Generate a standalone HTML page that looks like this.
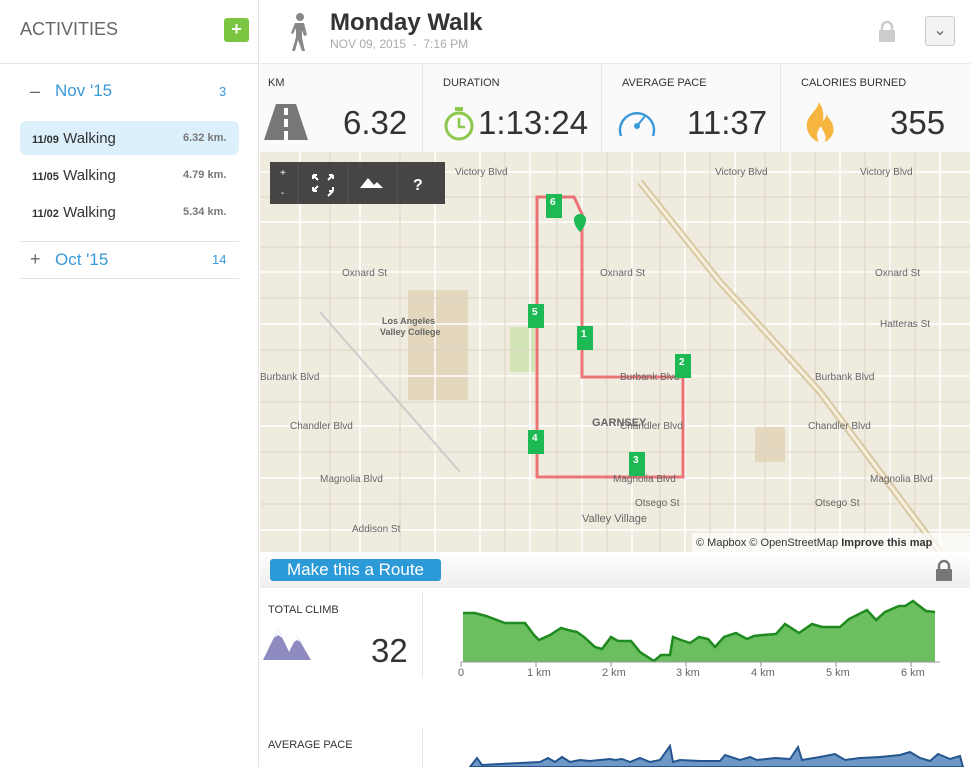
<!DOCTYPE html>
<html><head><meta charset="utf-8"><style>
*{margin:0;padding:0;box-sizing:border-box}
body{width:970px;height:767px;overflow:hidden;background:#fff;font-family:"Liberation Sans",sans-serif;position:relative;color:#333}
.a{position:absolute;white-space:nowrap}
</style></head><body>
<!-- sidebar -->
<div class="a" style="left:0;top:0;width:259px;height:767px;border-right:1px solid #e3e3e3"></div>
<div class="a" style="left:20px;top:19px;font-size:18px;color:#666">ACTIVITIES</div>
<div class="a" style="left:224px;top:18px;width:25px;height:24px;background:#7cc543;border-radius:3px;color:#fff;font-weight:bold;font-size:18px;text-align:center;line-height:23px">+</div>
<div class="a" style="left:0;top:63px;width:259px;border-top:1px solid #e3e3e3"></div>
<div class="a" style="left:30px;top:81px;font-size:18px;color:#666">–</div>
<div class="a" style="left:55px;top:81px;font-size:17px;color:#3a9ad9">Nov '15</div>
<div class="a" style="left:219px;top:84px;font-size:13px;color:#3a9ad9">3</div>
<div class="a" style="left:20px;top:121px;width:219px;height:34px;background:#dbf0fb;border-radius:6px"></div>
<div class="a" style="left:32px;top:130px;font-size:15px;color:#333"><b style="font-size:11px">11/09</b> Walking</div>
<div class="a" style="left:183px;top:132px;font-size:11px;font-weight:bold;color:#777">6.32 km.</div>
<div class="a" style="left:32px;top:167px;font-size:15px;color:#333"><b style="font-size:11px">11/05</b> Walking</div>
<div class="a" style="left:183px;top:169px;font-size:11px;font-weight:bold;color:#777">4.79 km.</div>
<div class="a" style="left:32px;top:204px;font-size:15px;color:#333"><b style="font-size:11px">11/02</b> Walking</div>
<div class="a" style="left:183px;top:206px;font-size:11px;font-weight:bold;color:#777">5.34 km.</div>
<div class="a" style="left:20px;top:241px;width:219px;border-top:1px solid #e3e3e3"></div>
<div class="a" style="left:30px;top:249px;font-size:18px;color:#666">+</div>
<div class="a" style="left:55px;top:250px;font-size:17px;color:#3a9ad9">Oct '15</div>
<div class="a" style="left:212px;top:252px;font-size:13px;color:#3a9ad9">14</div>
<div class="a" style="left:20px;top:278px;width:219px;border-top:1px solid #e3e3e3"></div>

<!-- header -->
<svg class="a" style="left:288px;top:13px" width="22" height="38" viewBox="0 0 22 38"><circle cx="12" cy="4" r="4" fill="#888"/><path d="M7 10h9l3 12-3 1-2-6v8l3 13h-3l-4-11-3 11H4l4-14v-9l-3 6-2-1z" fill="#888"/></svg>
<div class="a" style="left:330px;top:9px;font-size:24px;font-weight:bold;color:#333">Monday Walk</div>
<div class="a" style="left:330px;top:37px;font-size:12px;color:#aaa">NOV 09, 2015 &nbsp;- &nbsp;7:16 PM</div>
<svg class="a" style="left:878px;top:20px" width="18" height="22"><path d="M4 10V7a5 5 0 0110 0v3" stroke="#ccc" stroke-width="2.5" fill="none"/><rect x="1" y="10" width="16" height="12" rx="1" fill="#ccc"/></svg>
<div class="a" style="left:925px;top:16px;width:30px;height:30px;border:1px solid #ccc;border-radius:3px;background:#f3f3f3;color:#666;font-size:16px;text-align:center;line-height:28px">⌄</div>
<div class="a" style="left:260px;top:63px;width:710px;height:89px;background:#fafafa;border-top:1px solid #e8e8e8"></div>
<div class="a" style="left:422px;top:64px;height:88px;border-left:1px solid #e8e8e8"></div>
<div class="a" style="left:601px;top:64px;height:88px;border-left:1px solid #e8e8e8"></div>
<div class="a" style="left:780px;top:64px;height:88px;border-left:1px solid #e8e8e8"></div>
<div class="a" style="left:268px;top:77px;font-size:11px;color:#333">KM</div>
<div class="a" style="left:443px;top:77px;font-size:11px;color:#333">DURATION</div>
<div class="a" style="left:622px;top:77px;font-size:11px;color:#333">AVERAGE PACE</div>
<div class="a" style="left:801px;top:77px;font-size:11px;color:#333">CALORIES BURNED</div>
<svg class="a" style="left:264px;top:104px" width="44" height="36"><path d="M12 0h20l12 36H0z" fill="#777"/><rect x="20" y="4" width="4" height="7" fill="#fff"/><rect x="20" y="15" width="4" height="8" fill="#fff"/><rect x="20" y="27" width="4" height="9" fill="#fff"/></svg>
<div class="a" style="left:343px;top:104px;font-size:33px;color:#333">6.32</div>
<svg class="a" style="left:443px;top:104px" width="36" height="38"><circle cx="16" cy="22" r="13" stroke="#8dc84e" stroke-width="3" fill="none"/><rect x="12" y="3" width="8" height="4" fill="#8dc84e"/><path d="M16 14v9h6" stroke="#8dc84e" stroke-width="2.5" fill="none"/></svg>
<div class="a" style="left:478px;top:104px;font-size:33px;color:#333">1:13:24</div>
<svg class="a" style="left:616px;top:104px" width="42" height="34"><path d="M5 32A17 17 0 1137 32" stroke="#3a9ad9" stroke-width="2.5" fill="none"/><path d="M21 22l8-10" stroke="#3a9ad9" stroke-width="2"/><circle cx="21" cy="22" r="3" fill="#3a9ad9"/></svg>
<div class="a" style="left:687px;top:104px;font-size:33px;color:#333">11:37</div>
<svg class="a" style="left:803px;top:102px" width="32" height="40"><path d="M16 0c-2 10-14 14-12 26 1 8 8 13 12 14-3-5-3-10 2-16 2 6 6 8 4 16 6-3 10-9 8-16-1-6-6-8-6-12-2 4-2 6-4 7 1-7 0-13-4-19z" fill="#f6b53f"/></svg>
<div class="a" style="left:890px;top:104px;font-size:33px;color:#333">355</div>

<!-- map -->
<svg class="a" style="left:260px;top:152px" width="710" height="400">
<rect width="710" height="400" fill="#f0ebdf"/>
<rect x="148" y="138" width="60" height="110" fill="#e3d8bd"/>
<rect x="250" y="175" width="25" height="45" fill="#d3e4b6"/>
<rect x="495" y="275" width="30" height="35" fill="#e3d8bd"/>
<g stroke="#fff" stroke-width="1.5" fill="none">
<path d="M0 20H710M0 70H710M0 120H710M0 172H710M0 224H710M0 274H710M0 326H710M0 378H710"/>
<path d="M40 0V400M100 0V400M175 0V400M220 0V400M270 0V400M322 0V400M372 0V400M425 0V400M475 0V400M530 0V400M580 0V400M630 0V400M680 0V400"/>
</g>
<g stroke="#ddd5c4" stroke-width="1" fill="none">
<path d="M0 45H710M0 95H710M0 146H710M0 198H710M0 250H710M0 300H710M0 352H710"/>
<path d="M70 0V400M140 0V400M245 0V400M297 0V400M347 0V400M400 0V400M450 0V400M505 0V400M555 0V400M605 0V400M655 0V400"/>
</g>
<path d="M380 30L460 130 560 240 680 400" stroke="#d9c9a3" stroke-width="7" fill="none"/>
<path d="M380 30L460 130 560 240 680 400" stroke="#f6efdd" stroke-width="3" fill="none"/>
<path d="M60 160L200 320" stroke="#ccc" stroke-width="2" fill="none"/>
<path d="M277 45V325H423V225H322V62L314 45z" stroke="#e8565a" stroke-width="3" fill="none" opacity=".8"/>
<g font-size="10" fill="#666">
<text x="195" y="23">Victory Blvd</text><text x="455" y="23">Victory Blvd</text><text x="600" y="23">Victory Blvd</text>
<text x="82" y="124">Oxnard St</text><text x="340" y="124">Oxnard St</text><text x="615" y="124">Oxnard St</text>
<text x="0" y="228">Burbank Blvd</text><text x="360" y="228">Burbank Blvd</text><text x="555" y="228">Burbank Blvd</text>
<text x="30" y="277">Chandler Blvd</text><text x="360" y="277">Chandler Blvd</text><text x="548" y="277">Chandler Blvd</text>
<text x="60" y="330">Magnolia Blvd</text><text x="353" y="330">Magnolia Blvd</text><text x="610" y="330">Magnolia Blvd</text>
<text x="92" y="380">Addison St</text><text x="375" y="354">Otsego St</text><text x="555" y="354">Otsego St</text>
<text x="620" y="175">Hatteras St</text>
<text x="122" y="172" font-weight="bold" font-size="9">Los Angeles</text><text x="120" y="183" font-weight="bold" font-size="9">Valley College</text>
<text x="332" y="274" font-weight="bold" font-size="11">GARNSEY</text>
<text x="322" y="370" font-size="11">Valley Village</text>
</g>
<rect x="10" y="10" width="175" height="42" fill="#333" opacity=".9"/>
<g fill="#fff" font-size="16"><text x="20" y="24" font-size="10">+</text><text x="21" y="44" font-size="10">-</text><text x="153" y="38" font-weight="bold">?</text></g>
<path d="M38 10V52M88 10V52M137 10V52" stroke="#555"/>
<path d="M53 23l5 5M73 23l-5 5M53 39l5-5M73 39l-5 5M53 23h4M53 23v4M73 23h-4M73 23v4M53 39h4M53 39v-4M73 39h-4M73 39v-4" stroke="#fff" stroke-width="2"/>
<path d="M100 36l8-10 6 7 3-3 6 6z" fill="#fff"/>
<g font-size="10" fill="#fff" font-weight="bold">
<rect x="286" y="42" width="16" height="24" fill="#1db954"/><text x="290" y="53">6</text>
<rect x="268" y="152" width="16" height="24" fill="#1db954"/><text x="272" y="163">5</text>
<rect x="317" y="174" width="16" height="24" fill="#1db954"/><text x="321" y="185">1</text>
<rect x="415" y="202" width="16" height="24" fill="#1db954"/><text x="419" y="213">2</text>
<rect x="268" y="278" width="16" height="24" fill="#1db954"/><text x="272" y="289">4</text>
<rect x="369" y="300" width="16" height="24" fill="#1db954"/><text x="373" y="311">3</text>
</g>
<path d="M320 80c-8-8-8-18 0-18s8 10 0 18z" fill="#1db954"/>
<rect x="432" y="381" width="278" height="19" fill="#fff" opacity=".7"/>
<text x="436" y="394" font-size="11" fill="#333">© Mapbox © OpenStreetMap <tspan font-weight="bold">Improve this map</tspan></text>
</svg>

<!-- route bar -->
<div class="a" style="left:260px;top:552px;width:710px;height:36px;background:linear-gradient(#fff,#eee)"></div>
<div class="a" style="left:270px;top:559px;width:171px;height:22px;background:#2d9ad8;border-radius:3px;color:#fff;font-size:17px;text-align:center;line-height:22px">Make this a Route</div>
<svg class="a" style="left:935px;top:559px" width="18" height="22"><path d="M4 10V7a5 5 0 0110 0v3" stroke="#777" stroke-width="2.5" fill="none"/><rect x="1" y="10" width="16" height="12" rx="1" fill="#777"/></svg>

<!-- climb -->
<div class="a" style="left:422px;top:592px;height:86px;border-left:1px solid #e8e8e8"></div>
<div class="a" style="left:268px;top:604px;font-size:11px;color:#333">TOTAL CLIMB</div>
<svg class="a" style="left:263px;top:626px" width="48" height="34"><path d="M0 34L15 3 30 34zM22 34L34 10 48 34z" fill="#8e8bc1"/><path d="M11 12l4-9 4 9-4-3zM31 16l3-6 3 6-3-2z" fill="#fff"/></svg>
<div class="a" style="left:371px;top:632px;font-size:33px;color:#333">32</div>
<svg class="a" style="left:440px;top:595px" width="530" height="90">
<polygon fill="#6bbf5e" points="23,67 23,18 35,18 46,21 65,28 85,28 94,40 99,45 110,40 121,33 128,35 137,37 144,42 155,52 162,54 171,42 178,46 191,46 200,57 214,66 221,60 230,60 233,42 241,45 250,48 259,42 268,44 275,52 284,42 296,38 307,44 314,41 323,40 336,39 345,29 359,38 372,29 382,32 400,32 409,24 427,15 436,25 445,17 459,11 465,11 473,6 486,16 495,17 495,67"/>
<polyline fill="none" stroke="#1f8a1f" stroke-width="2.5" points="23,18 35,18 46,21 65,28 85,28 94,40 99,45 110,40 121,33 128,35 137,37 144,42 155,52 162,54 171,42 178,46 191,46 200,57 214,66 221,60 230,60 233,42 241,45 250,48 259,42 268,44 275,52 284,42 296,38 307,44 314,41 323,40 336,39 345,29 359,38 372,29 382,32 400,32 409,24 427,15 436,25 445,17 459,11 465,11 473,6 486,16 495,17"/>
<path d="M21 67H500" stroke="#999"/>
<g stroke="#999"><path d="M21 67v5M96 67v5M171 67v5M246 67v5M321 67v5M396 67v5M471 67v5"/></g>
<g font-size="11" fill="#666"><text x="18" y="81">0</text><text x="87" y="81">1 km</text><text x="162" y="81">2 km</text><text x="236" y="81">3 km</text><text x="311" y="81">4 km</text><text x="386" y="81">5 km</text><text x="461" y="81">6 km</text></g>
</svg>

<!-- pace -->
<div class="a" style="left:422px;top:728px;height:40px;border-left:1px solid #e8e8e8"></div>
<div class="a" style="left:268px;top:739px;font-size:11px;color:#333">AVERAGE PACE</div>
<svg class="a" style="left:440px;top:740px" width="530" height="27">
<path d="M30 27L37 18 42 25 60 24 80 23 100 22 108 18 115 22 122 17 130 22 140 20 150 21 160 20 170 19 175 20 182 19 190 22 200 18 210 22 220 20 230 6 233 22 240 20 260 21 280 21 285 15 300 20 310 17 317 20 335 18 350 19 358 7 362 20 380 17 395 14 405 20 420 18 440 17 460 15 470 12 480 18 490 21 498 14 510 19 520 16 523 27z" fill="#6f98c6" stroke="#24558f" stroke-width="2"/>
</svg>
</body></html>
